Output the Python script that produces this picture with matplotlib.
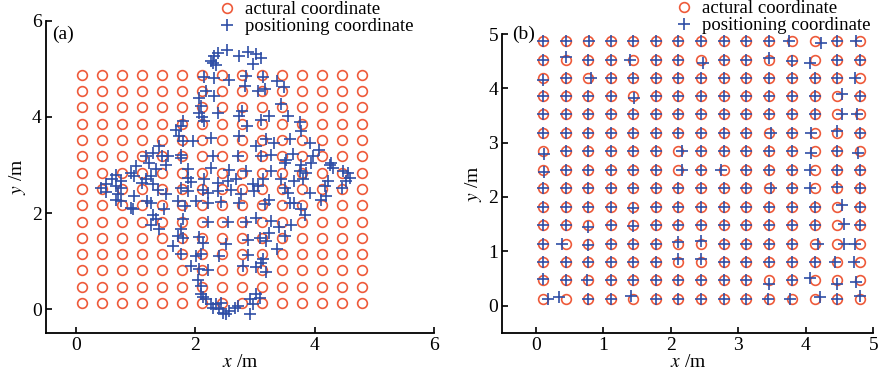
import numpy as np
import matplotlib
matplotlib.use('Agg')
import matplotlib.pyplot as plt

plt.rcParams['font.family'] = ['Liberation Serif', 'DejaVu Serif']
plt.rcParams['mathtext.fontset'] = 'stix'

# grid of actual coordinates (same in both panels)
grid_x = [0.10, 0.44, 0.77, 1.11, 1.44, 1.78, 2.11, 2.45, 2.79, 3.12, 3.46, 3.79, 4.13, 4.46, 4.80]
grid_y = [0.13, 0.47, 0.81, 1.14, 1.48, 1.82, 2.16, 2.50, 2.84, 3.18, 3.52, 3.86, 4.20, 4.53, 4.87]

# panel (a) positioning coordinates
pos_a_x = [2.53, 2.38, 2.31, 2.27, 2.29, 2.35, 2.88, 2.74, 3.02, 3.10, 2.96, 2.14, 2.32, 2.56, 2.85,
           3.13, 3.36, 3.48, 2.84, 3.05, 3.16, 2.18, 2.32, 2.07, 2.10, 2.07, 2.12, 2.15, 2.38, 2.79,
           2.74, 2.86, 3.10, 3.24, 3.44, 3.55, 3.75, 3.77, 1.79, 1.76, 1.68, 1.73, 1.79, 1.96, 2.27,
           2.74, 3.02, 3.19, 3.31, 3.58, 3.92, 4.08, 3.97, 3.94, 1.40, 1.29, 1.17, 1.45, 1.55, 1.76,
           1.76, 2.29, 2.71, 3.10, 3.27, 3.52, 3.50, 3.63, 3.77, 1.01, 1.23, 1.34, 1.51, 1.87, 2.27,
           2.57, 2.85, 3.27, 3.75, 3.86, 4.28, 4.31, 4.25, 4.47, 4.56, 4.59, 4.53, 0.67, 0.61, 0.92,
           0.98, 1.17, 1.26, 1.29, 1.11, 1.87, 1.93, 2.14, 2.38, 2.54, 2.68, 2.96, 3.13, 3.44, 3.66,
           3.80, 0.42, 0.50, 0.50, 0.67, 0.76, 0.76, 0.70, 0.67, 0.76, 0.98, 1.37, 1.51, 1.76, 1.87,
           2.13, 2.21, 2.38, 2.60, 2.77, 2.99, 3.05, 3.50, 3.55, 3.92, 4.17, 4.22, 4.45, 4.11, 4.19,
           0.92, 0.95, 1.19, 1.26, 1.48, 1.71, 1.83, 2.01, 2.21, 2.43, 2.74, 3.16, 3.24, 3.58, 3.66,
           3.77, 3.83, 1.29, 1.34, 1.26, 1.40, 1.79, 1.76, 2.21, 2.54, 2.85, 3.02, 3.27, 3.41, 3.61,
           3.24, 3.50, 1.71, 1.79, 1.62, 2.07, 2.13, 2.52, 2.88, 3.19, 3.08, 3.36, 1.76, 2.01, 2.10,
           2.40, 2.88, 3.13, 3.10, 1.93, 2.07, 2.21, 2.80, 3.02, 3.19, 2.04, 2.10, 2.10, 2.13, 2.18,
           3.08, 3.02, 2.91, 2.27, 2.35, 2.43, 2.29, 2.40, 2.46, 2.52, 2.57, 2.66, 2.71, 2.91, 2.96]
pos_a_y = [5.40, 5.33, 5.26, 5.16, 5.12, 5.07, 5.36, 5.27, 5.31, 5.22, 5.11, 4.83, 4.80, 4.77, 4.86,
           4.83, 4.74, 4.62, 4.65, 4.53, 4.57, 4.53, 4.43, 4.39, 4.22, 4.08, 4.00, 3.91, 4.08, 4.12,
           4.01, 3.82, 3.94, 4.01, 4.26, 4.01, 3.90, 3.70, 3.91, 3.82, 3.72, 3.60, 3.49, 3.49, 3.56,
           3.61, 3.39, 3.53, 3.45, 3.54, 3.46, 3.32, 3.18, 3.04, 3.39, 3.25, 3.18, 3.18, 3.18, 3.20,
           3.15, 3.18, 3.18, 3.18, 3.20, 3.11, 3.04, 3.22, 3.01, 2.98, 3.04, 2.91, 3.01, 2.91, 2.94,
           2.89, 2.87, 2.87, 2.87, 2.84, 3.04, 2.94, 3.01, 2.87, 2.84, 2.73, 2.66, 2.80, 2.70, 2.84,
           2.77, 2.70, 2.77, 2.60, 2.63, 2.73, 2.64, 2.70, 2.63, 2.66, 2.70, 2.60, 2.70, 2.70, 2.66,
           2.70, 2.53, 2.60, 2.44, 2.56, 2.53, 2.66, 2.39, 2.28, 2.25, 2.35, 2.49, 2.39, 2.53, 2.46,
           2.49, 2.42, 2.46, 2.49, 2.39, 2.46, 2.56, 2.53, 2.42, 2.42, 2.56, 2.66, 2.53, 2.28, 2.35,
           2.11, 2.08, 2.25, 2.21, 2.08, 2.25, 2.15, 2.25, 2.20, 2.23, 2.21, 2.18, 2.28, 2.21, 2.21,
           2.09, 1.97, 1.97, 1.87, 1.76, 1.66, 1.87, 1.66, 1.81, 1.81, 1.81, 1.90, 1.83, 1.70, 1.76,
           1.59, 1.52, 1.52, 1.49, 1.31, 1.51, 1.38, 1.36, 1.45, 1.42, 1.49, 1.25, 1.14, 1.11, 1.14,
           1.11, 1.12, 1.04, 0.97, 0.90, 0.84, 0.81, 0.90, 0.87, 0.78, 0.60, 0.48, 0.31, 0.26, 0.21,
           0.24, 0.31, 0.21, 0.10, 0.10, 0.12, 0.03, 0.00, -0.07, -0.10, -0.03, 0.03, 0.07, -0.10, 0.10]

# panel (b) deviations of positioning from actual: (row, col, dx, dy)
dev_b = [(0, 0, 0.08, 0.0), (0, 1, -0.10, 0.02), (0, 4, -0.03, 0.05), (0, 12, 0.08, 0.02),
         (0, 14, 0.0, 0.04), (0, 11, -0.03, 0.0), (0, 10, -0.02, 0.0),
         (1, 10, 0.0, -0.08), (1, 12, -0.07, 0.03), (1, 13, 0.0, -0.08), (1, 14, -0.06, -0.03),
         (1, 0, 0.0, 0.02), (1, 2, -0.02, 0.0),
         (2, 13, -0.03, 0.0), (2, 14, -0.08, 0.0), (2, 6, 0.0, 0.04), (2, 7, 0.0, 0.05),
         (3, 1, -0.05, 0.0), (3, 12, 0.05, 0.0), (3, 13, 0.10, 0.0), (3, 14, -0.07, 0.0),
         (3, 6, 0.0, 0.03), (3, 7, 0.0, 0.05), (3, 2, 0.0, -0.03),
         (4, 13, 0.10, 0.02), (4, 2, 0.0, -0.03), (4, 4, 0.0, -0.02),
         (5, 13, 0.07, 0.03), (5, 4, 0.0, -0.03),
         (6, 12, -0.07, 0.0), (6, 13, 0.0, 0.03), (6, 10, 0.03, 0.0),
         (7, 12, -0.07, 0.0), (7, 0, 0.02, -0.04), (7, 6, 0.05, 0.0), (7, 8, -0.05, 0.0),
         (8, 12, -0.06, -0.03), (8, 6, 0.05, 0.0), (8, 0, 0.02, -0.04), (8, 14, -0.02, -0.03),
         (9, 12, -0.06, 0.0), (9, 13, 0.0, 0.03), (9, 10, 0.03, 0.0),
         (10, 13, 0.07, 0.0), (10, 14, -0.04, 0.0),
         (11, 13, 0.07, 0.03), (11, 4, 0.02, -0.03),
         (12, 14, -0.07, 0.0), (12, 0, 0.0, -0.04), (12, 2, 0.04, 0.0),
         (13, 12, -0.07, -0.06), (13, 7, 0.02, -0.06), (13, 1, 0.0, 0.04), (13, 4, -0.04, 0.0),
         (13, 11, 0.0, -0.03), (13, 10, 0.0, 0.03),
         (14, 12, 0.10, -0.03), (14, 11, -0.04, 0.0), (14, 14, -0.05, 0.0), (14, 2, 0.02, 0.0)]

RED = '#ee5a3a'
BLUE = '#2f4ea6'
FS = 14
LFS = 13.5

gx, gy = np.meshgrid(grid_x, grid_y)
act_x, act_y = gx.ravel(), gy.ravel()

pos_bx = gx.copy()
pos_by = gy.copy()
for r, c, dx, dy in dev_b:
    pos_bx[r, c] += dx
    pos_by[r, c] += dy

fig = plt.figure(figsize=(8.82, 3.77), dpi=100)
ax1 = fig.add_axes([0.0522, 0.116, 0.44, 0.829])
ax2 = fig.add_axes([0.5695, 0.1175, 0.4206, 0.792])


def style(ax):
    for s in ['top', 'right']:
        ax.spines[s].set_visible(False)
    for s in ['left', 'bottom']:
        ax.spines[s].set_linewidth(1.3)
    ax.tick_params(direction='in', length=4, width=1.2, labelsize=FS, pad=3)
    ax.set_xlabel('$x$ /m', fontsize=FS, labelpad=0)
    ax.set_ylabel('$y$ /m', fontsize=FS, labelpad=3)


# (a)
ax1.plot(act_x, act_y, 'o', ls='none', mfc='none', mec=RED, ms=7, mew=1.2, label='actural coordinate')
ax1.plot(pos_a_x, pos_a_y, '+', ls='none', color=BLUE, ms=8.5, mew=1.2, label='positioning coordinate')
ax1.set_xlim(-0.5, 6)
ax1.set_ylim(-0.5, 6)
ax1.set_xticks([0, 2, 4, 6])
ax1.set_yticks([0, 2, 4, 6])
style(ax1)
ax1.text(0.015, 0.955, '(a)', transform=ax1.transAxes, fontsize=FS, va='center')
ax1.legend(loc='upper left', bbox_to_anchor=(0.247, 0.997), bbox_transform=fig.transFigure,
           frameon=False, fontsize=LFS, handlelength=1.0, handletextpad=0.45,
           borderpad=0, borderaxespad=0, labelspacing=0.0)

# (b)
ax2.plot(act_x, act_y, 'o', ls='none', mfc='none', mec=RED, ms=7, mew=1.2, label='actural coordinate')
ax2.plot(pos_bx.ravel(), pos_by.ravel(), '+', ls='none', color=BLUE, ms=8.5, mew=1.2,
         label='positioning coordinate')
ax2.set_xlim(-0.5, 5)
ax2.set_ylim(-0.5, 5)
ax2.set_xticks([0, 1, 2, 3, 4, 5])
ax2.set_yticks([0, 1, 2, 3, 4, 5])
style(ax2)
ax2.text(0.027, 1.0, '(b)', transform=ax2.transAxes, fontsize=FS, va='center')
ax2.legend(loc='upper left', bbox_to_anchor=(0.765, 1.0), bbox_transform=fig.transFigure,
           frameon=False, fontsize=LFS, handlelength=1.0, handletextpad=0.45,
           borderpad=0, borderaxespad=0, labelspacing=0.0)

fig.savefig('out.png', dpi=100)
